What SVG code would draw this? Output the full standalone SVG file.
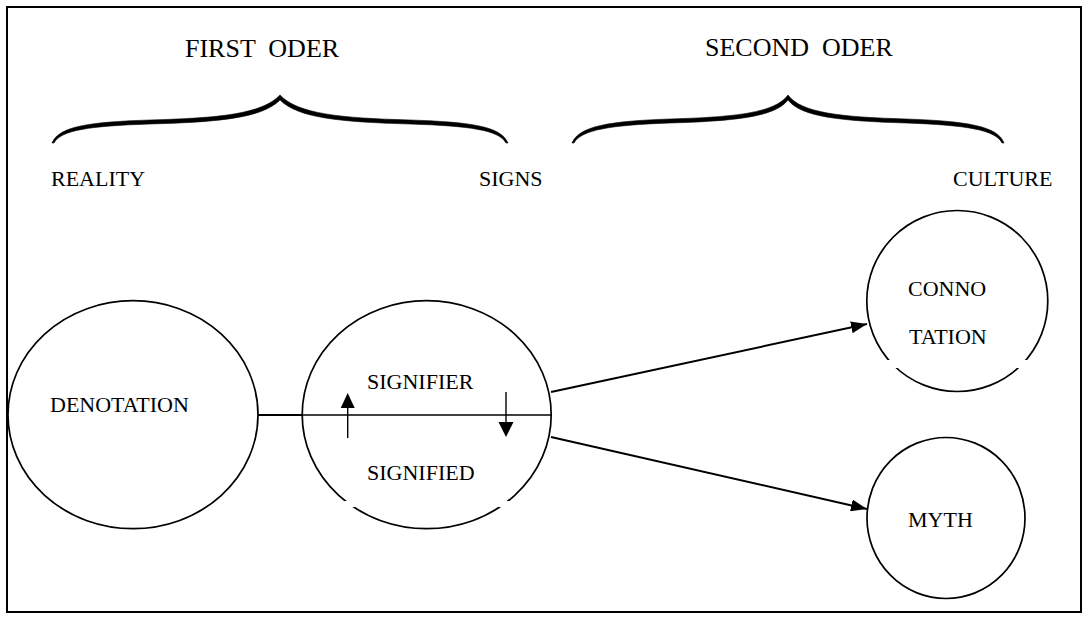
<svg xmlns="http://www.w3.org/2000/svg" width="1088" height="620" viewBox="0 0 1088 620">
  <defs>
    <style>
      text { font-family: "Liberation Serif", "Times New Roman", serif; fill: #000; }
      .big { font-size: 26px; }
      .lbl { font-size: 22px; }
      .brace { fill: #000; stroke: #000; stroke-width: 0.6; stroke-linejoin: round; }
      .node { fill: none; stroke: #000; stroke-width: 1.7; }
      .conn { fill: none; stroke: #000; stroke-width: 2; }
      .thin { fill: none; stroke: #000; stroke-width: 1.4; }
      .gap { fill: #fff; stroke: none; }
    </style>
    <marker id="arrow" viewBox="0 0 16 12" refX="16" refY="6" markerWidth="16" markerHeight="12" markerUnits="userSpaceOnUse" orient="auto">
      <path d="M0,0 L16,6 L0,12 Z" fill="#000"/>
    </marker>
  </defs>

  <rect x="0" y="0" width="1088" height="620" fill="#fff"/>
  <rect id="frame" x="7" y="7" width="1074" height="605" fill="none" stroke="#000" stroke-width="2"/>

  <g id="headers">
    <text class="big" x="185" y="57" xml:space="preserve">FIRST  ODER</text>
    <text class="big" x="705" y="56" xml:space="preserve">SECOND  ODER</text>
    <path class="brace" d="M52,143 C59,126 90,122 150,120 C220,118 262,114 280,95 C298,114 340,118 410,120 C470,122 501,126 508,143 L506,143 C499,130 470,126 410,124 C340,122 298,118 280,100 C262,118 220,122 150,124 C90,126 61,130 54,143 Z"/>
    <path class="brace" d="M572,143 C579,126 610,121 670,119 C735,117 775,113 788,95 C801,113 841,117 906,119 C966,121 998,126 1004,143 L1002,143 C996,130 966,125 906,123 C841,121 801,117 788,100 C775,117 735,121 670,123 C610,125 581,130 574,143 Z"/>
    <text class="lbl" x="51" y="186">REALITY</text>
    <text class="lbl" x="479" y="186">SIGNS</text>
    <text class="lbl" x="953" y="186">CULTURE</text>
  </g>

  <g id="connectors">
    <line class="conn" x1="258" y1="415" x2="302" y2="415"/>
    <line class="thin" x1="302" y1="415" x2="551" y2="415"/>
    <line class="conn" x1="551" y1="392" x2="867" y2="324" marker-end="url(#arrow)"/>
    <line class="conn" x1="551" y1="437" x2="867" y2="509" marker-end="url(#arrow)"/>
    <line class="thin" x1="347.7" y1="438" x2="347.7" y2="406"/>
    <path d="M340.7,408 L354.7,408 L347.7,393 Z" fill="#000"/>
    <line class="thin" x1="506" y1="392" x2="506" y2="424"/>
    <path d="M498.5,422 L513.5,422 L506,437 Z" fill="#000"/>
  </g>

  <g id="denotation">
    <ellipse class="node" cx="133" cy="414.7" rx="125" ry="114"/>
    <text class="lbl" x="50" y="412">DENOTATION</text>
  </g>

  <g id="signs">
    <ellipse class="node" cx="426.7" cy="414.7" rx="124.5" ry="114"/>
    <rect class="gap" x="340" y="501" width="18" height="6"/>
    <rect class="gap" x="496" y="501" width="18" height="6"/>
    <text class="lbl" x="367" y="389">SIGNIFIER</text>
    <text class="lbl" x="367" y="480">SIGNIFIED</text>
  </g>

  <g id="connotation">
    <circle class="node" cx="957.3" cy="301" r="90.5"/>
    <rect class="gap" x="884" y="360" width="16" height="8"/>
    <rect class="gap" x="1014" y="360" width="16" height="8"/>
    <text class="lbl" x="908" y="296">CONNO</text>
    <text class="lbl" x="909" y="344">TATION</text>
  </g>

  <g id="myth">
    <ellipse class="node" cx="946" cy="518" rx="79" ry="80.5"/>
    <text class="lbl" x="908" y="527">MYTH</text>
  </g>
</svg>
